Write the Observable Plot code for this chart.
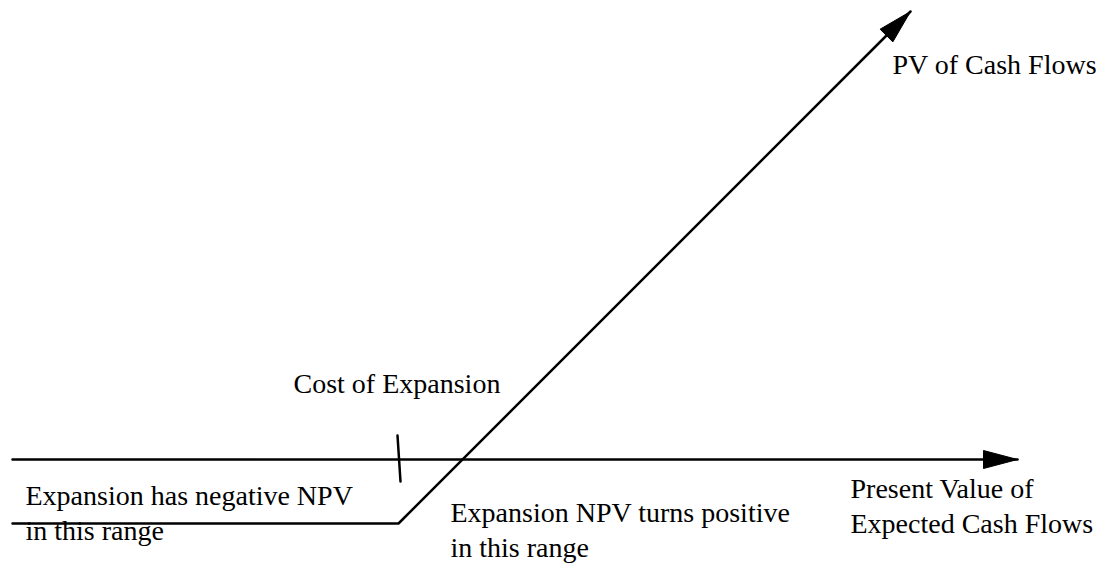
<!DOCTYPE html>
<html>
<head>
<meta charset="utf-8">
<script src="https://cdn.jsdelivr.net/npm/d3@7"></script>
<script src="https://cdn.jsdelivr.net/npm/@observablehq/plot@0.6"></script>
<style>
  html, body { margin: 0; padding: 0; background: #fff; }
  #chart svg { display: block; }
</style>
</head>
<body>
<div id="chart"></div>
<script>
// Schematic values (x = present value of expected cash flows, y = value)
const axisExtent = [0, 1005];
const costOfExpansion = 386;
const floorValue = -64;
const payoffPV = [0, 386, 898];
const payoffValue = [-64, -64, 448];
const costTickPV = [385, 388];
const costTickValue = [24, -22];

const labelTexts = [
  "PV of Cash Flows",
  "Cost of Expansion",
  "Expansion has negative NPV\nin this range",
  "Expansion NPV turns positive\nin this range",
  "Present Value of\nExpected Cash Flows"
];
const labelPV = [880, 281, 13, 438, 838];
const labelValue = [410, 91, -21, -38, -14];

// build tables
const axisData = axisExtent.map(pv => ({pv, value: 0}));
const payoff = payoffPV.map((pv, i) => ({pv, value: payoffValue[i]}));
const costTick = costTickPV.map((pv, i) => ({pv, value: costTickValue[i]}));
const labels = labelTexts.map((text, i) => ({text, pv: labelPV[i], value: labelValue[i]}));

// arrowhead polygons derived from the line ends
function arrowHead(id, from, tip, len, half) {
  const dx = tip.pv - from.pv, dy = tip.value - from.value;
  const d = Math.hypot(dx, dy), ux = dx / d, uy = dy / d;
  const bx = tip.pv - ux * len, by = tip.value - uy * len;
  return [
    {id, pv: tip.pv, value: tip.value},
    {id, pv: bx - uy * half, value: by + ux * half},
    {id, pv: bx + uy * half, value: by - ux * half},
    {id, pv: tip.pv, value: tip.value}
  ];
}
const heads = [
  ...arrowHead("axis", axisData[0], axisData[1], 34, 9),
  ...arrowHead("payoff", payoff[1], payoff[2], 34, 9)
];

const chart = Plot.plot({
  width: 1109,
  height: 565,
  marginLeft: 12,
  marginRight: 0,
  marginTop: 0,
  marginBottom: 0,
  x: {domain: [0, 1097], axis: null},
  y: {domain: [-106, 459], axis: null},
  marks: [
    Plot.line(axisData, {x: "pv", y: "value", stroke: "black", strokeWidth: 2.5}),
    Plot.line(payoff, {x: "pv", y: "value", stroke: "black", strokeWidth: 2.5, strokeLinejoin: "miter"}),
    Plot.line(costTick, {x: "pv", y: "value", stroke: "black", strokeWidth: 2.5}),
    Plot.line(heads, {x: "pv", y: "value", z: "id", fill: "black", stroke: "black", strokeWidth: 1}),
    Plot.text(labels, {
      x: "pv", y: "value", text: "text",
      textAnchor: "start", lineAnchor: "top", lineHeight: 1.25,
      fontFamily: "Liberation Serif", fontSize: 28, fill: "black"
    })
  ]
});
document.getElementById("chart").appendChild(chart);
</script>
</body>
</html>
